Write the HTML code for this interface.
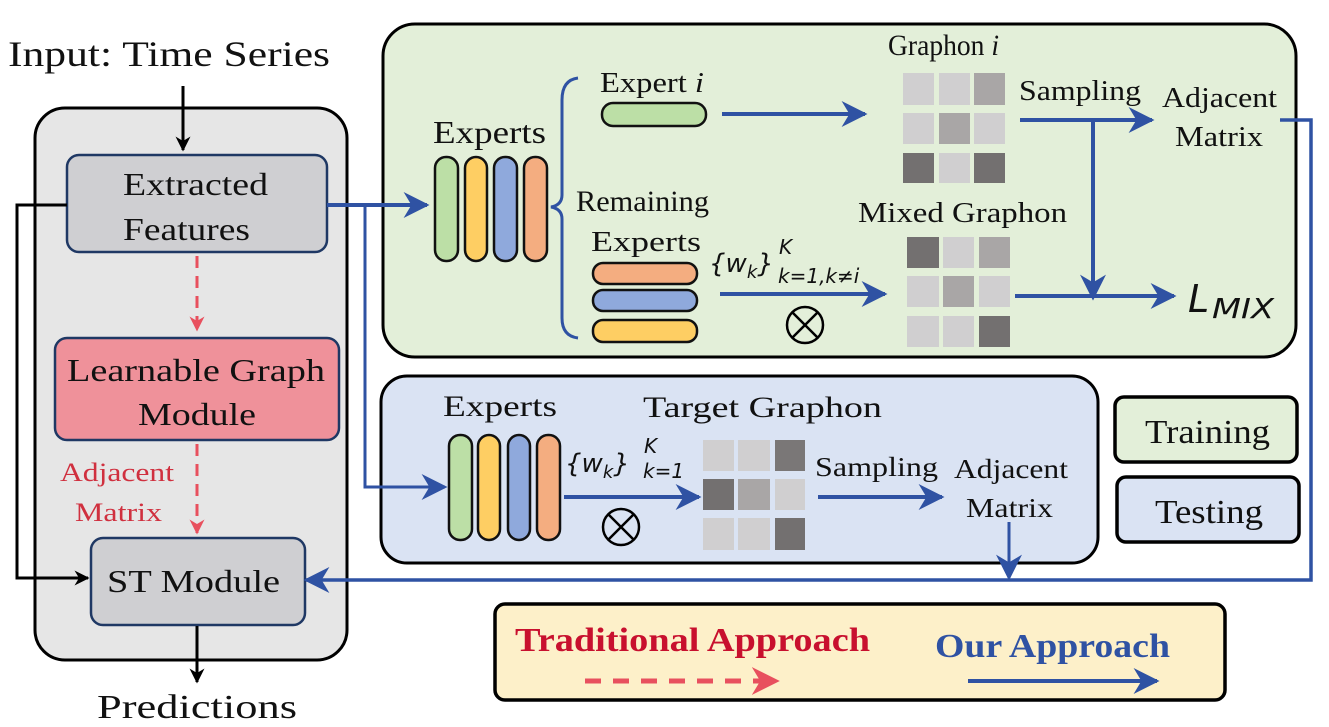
<!DOCTYPE html>
<html><head><meta charset="utf-8"><style>body{margin:0;background:#fff}svg{display:block}svg text{font-family:"Liberation Serif","Times New Roman",serif;fill:#111}svg text.m{font-family:"DejaVu Sans","Liberation Sans",sans-serif;font-style:italic}</style></head><body>
<svg width="1329" height="727" viewBox="0 0 1329 727" xmlns="http://www.w3.org/2000/svg" font-family="Liberation Serif, serif">
<defs>
<marker id="ak" viewBox="0 0 10 10" refX="9" refY="5" markerWidth="5" markerHeight="5" orient="auto"><path d="M0,0 L10,5 L0,10 L3,5 z" fill="#000"/></marker>
<marker id="ar" viewBox="0 0 10 10" refX="9" refY="5" markerWidth="5" markerHeight="5" orient="auto"><path d="M0,0 L10,5 L0,10 L3,5 z" fill="#e8505e"/></marker>
<marker id="bb" viewBox="0 0 10 10" refX="9" refY="5" markerWidth="26" markerHeight="26" orient="auto" markerUnits="userSpaceOnUse"><path d="M0,0 L10,5 L0,10 L3,5 z" fill="#2f52a3"/></marker>
<marker id="rb" viewBox="0 0 10 10" refX="9" refY="5" markerWidth="28" markerHeight="28" orient="auto" markerUnits="userSpaceOnUse"><path d="M0,0 L10,5 L0,10 L3,5 z" fill="#e8505e"/></marker>
</defs>

<!-- left panel -->
<rect x="35" y="108" width="312" height="552" rx="30" fill="#e6e6e6" stroke="#000" stroke-width="3"/>
<text x="8" y="66" font-size="36" textLength="322" lengthAdjust="spacingAndGlyphs">Input: Time Series</text>
<line x1="183" y1="86" x2="183" y2="150" stroke="#000" stroke-width="3" marker-end="url(#ak)"/>
<rect x="67" y="155" width="260" height="97" rx="12" fill="#cfcfd2" stroke="#1f3864" stroke-width="2.5"/>
<text x="123" y="195" font-size="32" textLength="145" lengthAdjust="spacingAndGlyphs">Extracted</text>
<text x="123" y="240" font-size="32" textLength="127" lengthAdjust="spacingAndGlyphs">Features</text>
<line x1="197" y1="256" x2="197" y2="330" stroke="#e8505e" stroke-width="3" stroke-dasharray="12,8" marker-end="url(#ar)"/>
<rect x="55" y="338" width="284" height="102" rx="12" fill="#ef919a" stroke="#1f3864" stroke-width="2.5"/>
<text x="67" y="381" font-size="32" textLength="258" lengthAdjust="spacingAndGlyphs">Learnable Graph</text>
<text x="138" y="425" font-size="32" textLength="118" lengthAdjust="spacingAndGlyphs">Module</text>
<text x="60" y="481" font-size="26" textLength="114" lengthAdjust="spacingAndGlyphs" style="fill:#d0303f">Adjacent</text>
<text x="75" y="521" font-size="26" textLength="87" lengthAdjust="spacingAndGlyphs" style="fill:#d0303f">Matrix</text>
<line x1="197" y1="444" x2="197" y2="533" stroke="#e8505e" stroke-width="3" stroke-dasharray="12,8" marker-end="url(#ar)"/>
<rect x="91" y="538" width="214" height="87" rx="12" fill="#cfcfd2" stroke="#1f3864" stroke-width="2.5"/>
<text x="107" y="592" font-size="32" textLength="173" lengthAdjust="spacingAndGlyphs">ST Module</text>
<polyline points="67,205 17,205 17,578 88,578" fill="none" stroke="#000" stroke-width="3" marker-end="url(#ak)"/>
<line x1="197" y1="626" x2="197" y2="682" stroke="#000" stroke-width="3" marker-end="url(#ak)"/>
<text x="97" y="718" font-size="34" textLength="200" lengthAdjust="spacingAndGlyphs">Predictions</text>

<!-- green panel -->
<rect x="383" y="24" width="913" height="333" rx="32" fill="#e3efd9" stroke="#000" stroke-width="3"/>
<text x="433" y="143" font-size="32" textLength="113" lengthAdjust="spacingAndGlyphs">Experts</text>
<g stroke="#111" stroke-width="2.5">
<rect x="435" y="157" width="23" height="104" rx="11" fill="#bcdfa6"/>
<rect x="465" y="157" width="22" height="104" rx="11" fill="#fece63"/>
<rect x="494" y="157" width="23" height="104" rx="11" fill="#8fa9dc"/>
<rect x="524" y="157" width="23" height="104" rx="11" fill="#f4ad80"/>
</g>
<path d="M578,78 Q562,80 562,100 L562,195 Q562,205 551,207 Q562,209 562,219 L562,318 Q562,336 578,338" fill="none" stroke="#2f52a3" stroke-width="3"/>
<text x="600" y="92" font-size="28" textLength="104" lengthAdjust="spacingAndGlyphs">Expert <tspan font-style="italic">i</tspan></text>
<rect x="602" y="103" width="104" height="23" rx="11" fill="#bcdfa6" stroke="#111" stroke-width="2.5"/>
<line x1="722" y1="114" x2="865" y2="114" stroke="#2f52a3" stroke-width="4" marker-end="url(#bb)"/>
<text x="888" y="55" font-size="30" textLength="111" lengthAdjust="spacingAndGlyphs">Graphon <tspan font-style="italic">i</tspan></text>
<g>
<rect x="903" y="73" width="31" height="32" fill="#d0cfd0"/><rect x="939" y="73" width="31" height="32" fill="#d0cfd0"/><rect x="974" y="73" width="31" height="32" fill="#a9a6a6"/>
<rect x="903" y="113" width="31" height="31" fill="#d0cfd0"/><rect x="939" y="113" width="31" height="31" fill="#a9a6a6"/><rect x="974" y="113" width="31" height="31" fill="#d0cfd0"/>
<rect x="903" y="153" width="31" height="30" fill="#737070"/><rect x="939" y="153" width="31" height="30" fill="#d0cfd0"/><rect x="974" y="153" width="31" height="30" fill="#737070"/>
</g>
<text x="1019" y="100" font-size="28" textLength="122" lengthAdjust="spacingAndGlyphs">Sampling</text>
<text x="1162" y="107" font-size="28" textLength="115" lengthAdjust="spacingAndGlyphs">Adjacent</text>
<text x="1175" y="146" font-size="28" textLength="88" lengthAdjust="spacingAndGlyphs">Matrix</text>
<line x1="1020" y1="120" x2="1152" y2="120" stroke="#2f52a3" stroke-width="4" marker-end="url(#bb)"/>
<line x1="1093" y1="120" x2="1093" y2="298" stroke="#2f52a3" stroke-width="4" marker-end="url(#bb)"/>
<text x="576" y="211" font-size="30" textLength="133" lengthAdjust="spacingAndGlyphs">Remaining</text>
<text x="591" y="251" font-size="28" textLength="110" lengthAdjust="spacingAndGlyphs">Experts</text>
<g stroke="#111" stroke-width="2.5">
<rect x="593" y="263" width="104" height="21" rx="10" fill="#f4ad80"/>
<rect x="593" y="290" width="104" height="21" rx="10" fill="#8fa9dc"/>
<rect x="593" y="320" width="104" height="22" rx="10" fill="#fece63"/>
</g>
<text class="m" x="709" y="272" font-size="26">{w<tspan font-size="18" dy="6">k</tspan><tspan dy="-6">}</tspan></text>
<text class="m" x="778" y="283" font-size="20">k=1,k≠i</text>
<text class="m" x="779" y="254" font-size="20">K</text>
<line x1="720" y1="294" x2="885" y2="294" stroke="#2f52a3" stroke-width="4" marker-end="url(#bb)"/>
<circle cx="805" cy="325" r="18" fill="none" stroke="#000" stroke-width="2.5"/>
<path d="M792,312 L818,338 M818,312 L792,338" stroke="#000" stroke-width="2.5"/>
<text x="858" y="222" font-size="28" textLength="209" lengthAdjust="spacingAndGlyphs">Mixed Graphon</text>
<g>
<rect x="907" y="237" width="32" height="31" fill="#737070"/><rect x="943" y="237" width="31" height="31" fill="#d0cfd0"/><rect x="979" y="237" width="31" height="31" fill="#a9a6a6"/>
<rect x="907" y="276" width="32" height="31" fill="#d0cfd0"/><rect x="943" y="276" width="31" height="31" fill="#a9a6a6"/><rect x="979" y="276" width="31" height="31" fill="#d0cfd0"/>
<rect x="907" y="316" width="32" height="31" fill="#d0cfd0"/><rect x="943" y="316" width="31" height="31" fill="#d0cfd0"/><rect x="979" y="316" width="31" height="31" fill="#737070"/>
</g>
<line x1="1015" y1="296" x2="1174" y2="296" stroke="#2f52a3" stroke-width="4" marker-end="url(#bb)"/>
<text class="m" x="1188" y="312" font-size="38">L</text>
<text class="m" x="1212" y="318" font-size="28" textLength="62" lengthAdjust="spacingAndGlyphs">MIX</text>

<!-- blue panel -->
<rect x="381" y="376" width="717" height="187" rx="26" fill="#dae3f3" stroke="#000" stroke-width="3"/>
<text x="443" y="416" font-size="30" textLength="114" lengthAdjust="spacingAndGlyphs">Experts</text>
<g stroke="#111" stroke-width="2.5">
<rect x="449" y="435" width="23" height="105" rx="11" fill="#bcdfa6"/>
<rect x="478" y="435" width="22" height="105" rx="11" fill="#fece63"/>
<rect x="508" y="435" width="22" height="105" rx="11" fill="#8fa9dc"/>
<rect x="537" y="435" width="23" height="105" rx="11" fill="#f4ad80"/>
</g>
<text x="643" y="417" font-size="30" textLength="239" lengthAdjust="spacingAndGlyphs">Target Graphon</text>
<text class="m" x="565" y="472" font-size="26">{w<tspan font-size="18" dy="6">k</tspan><tspan dy="-6">}</tspan></text>
<text class="m" x="643" y="478" font-size="20">k=1</text>
<text class="m" x="644" y="453" font-size="20">K</text>
<line x1="564" y1="497" x2="699" y2="497" stroke="#2f52a3" stroke-width="4" marker-end="url(#bb)"/>
<circle cx="621" cy="527" r="18" fill="none" stroke="#000" stroke-width="2.5"/>
<path d="M608,514 L634,540 M634,514 L608,540" stroke="#000" stroke-width="2.5"/>
<g>
<rect x="703" y="440" width="31" height="31" fill="#d0cfd0"/><rect x="738" y="440" width="32" height="31" fill="#d0cfd0"/><rect x="775" y="440" width="30" height="31" fill="#7a7777"/>
<rect x="703" y="479" width="31" height="31" fill="#737070"/><rect x="738" y="479" width="32" height="31" fill="#a9a6a6"/><rect x="775" y="479" width="30" height="31" fill="#d0cfd0"/>
<rect x="703" y="518" width="31" height="32" fill="#d0cfd0"/><rect x="738" y="518" width="32" height="32" fill="#d0cfd0"/><rect x="775" y="518" width="30" height="32" fill="#737070"/>
</g>
<text x="815" y="476" font-size="27" textLength="123" lengthAdjust="spacingAndGlyphs">Sampling</text>
<line x1="818" y1="497" x2="942" y2="497" stroke="#2f52a3" stroke-width="4" marker-end="url(#bb)"/>
<text x="954" y="478" font-size="27" textLength="114" lengthAdjust="spacingAndGlyphs">Adjacent</text>
<text x="966" y="517" font-size="27" textLength="87" lengthAdjust="spacingAndGlyphs">Matrix</text>
<line x1="1009" y1="522" x2="1009" y2="578" stroke="#2f52a3" stroke-width="3" marker-end="url(#bb)"/>

<!-- training/testing -->
<rect x="1115" y="397" width="182" height="65" rx="9" fill="#e3efd9" stroke="#000" stroke-width="3.5"/>
<text x="1145" y="443" font-size="34" textLength="125" lengthAdjust="spacingAndGlyphs">Training</text>
<rect x="1117" y="477" width="182" height="65" rx="9" fill="#dae3f3" stroke="#000" stroke-width="3.5"/>
<text x="1155" y="523" font-size="34" textLength="108" lengthAdjust="spacingAndGlyphs">Testing</text>

<!-- blue routing -->
<line x1="327" y1="205" x2="427" y2="205" stroke="#2f52a3" stroke-width="4" marker-end="url(#bb)"/>
<polyline points="365,205 365,487 445,487" fill="none" stroke="#2f52a3" stroke-width="3" marker-end="url(#bb)"/>
<polyline points="1280,120 1311,120 1311,580 306,580" fill="none" stroke="#2f52a3" stroke-width="3.5" marker-end="url(#bb)"/>

<!-- legend -->
<rect x="495" y="604" width="730" height="96" rx="10" fill="#fdf0c9" stroke="#000" stroke-width="3.5"/>
<text x="515" y="651" font-size="34" font-weight="bold" style="fill:#c8102e" textLength="355" lengthAdjust="spacingAndGlyphs">Traditional Approach</text>
<line x1="585" y1="681" x2="777" y2="681" stroke="#e8505e" stroke-width="5" stroke-dasharray="16,12" marker-end="url(#rb)"/>
<text x="935" y="657" font-size="34" font-weight="bold" style="fill:#2f52a3" textLength="235" lengthAdjust="spacingAndGlyphs">Our Approach</text>
<line x1="968" y1="681" x2="1157" y2="681" stroke="#2f52a3" stroke-width="4" marker-end="url(#bb)"/>
</svg>
</body></html>
